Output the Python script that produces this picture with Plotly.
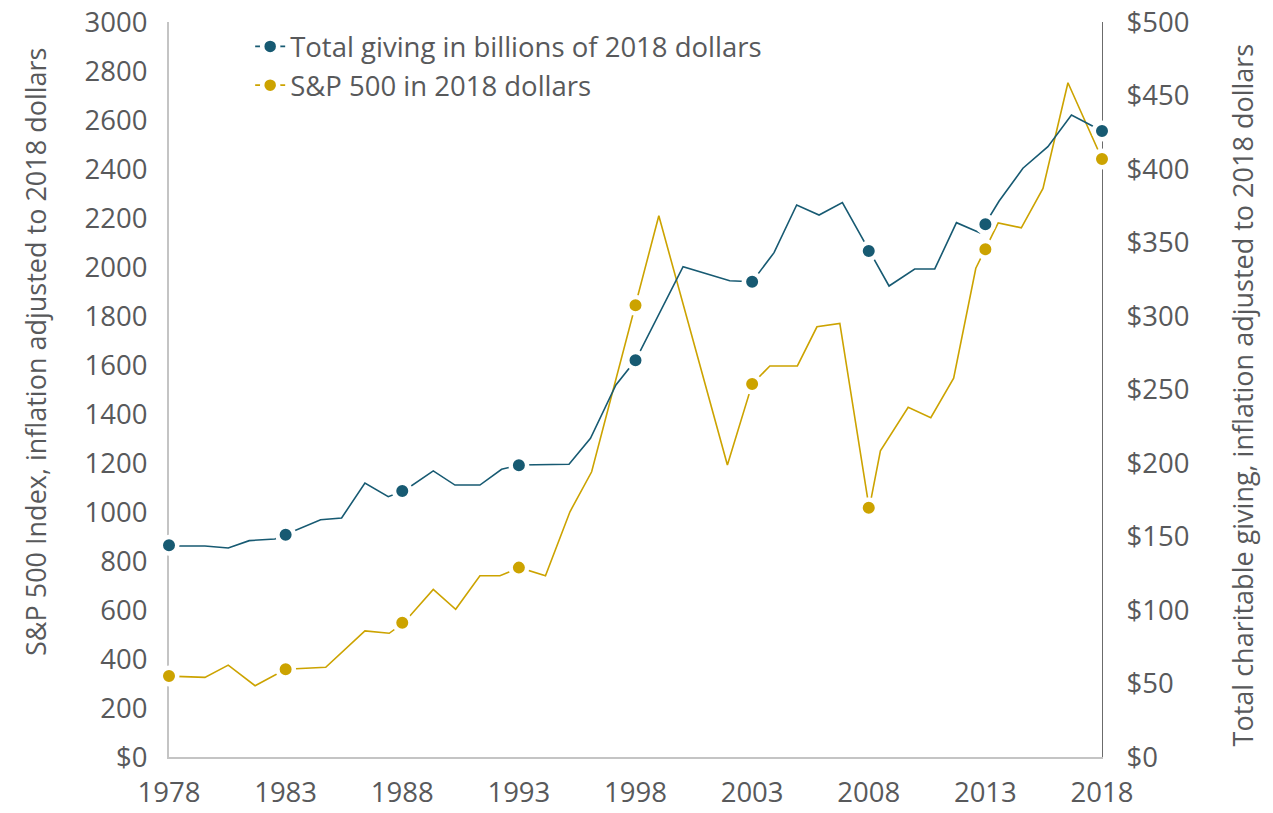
import plotly.graph_objects as go

# ---------------- data ----------------
# Total charitable giving, billions of 2018 dollars (right axis)
giving_x = [1978.0, 1979.54, 1980.54, 1981.44, 1982.54, 1984.5, 1985.4, 1986.4, 1987.4,
            1988.1, 1989.33, 1990.26, 1991.33, 1992.26, 1993.0, 1995.15, 1996.07, 1997.16,
            1998.0, 2000.04, 2002.04, 2003.0, 2003.94, 2004.91, 2005.87, 2006.87, 2008.87,
            2009.97, 2010.83, 2011.76, 2012.76, 2013.59, 2014.61, 2015.68, 2016.69, 2018.0]
giving_val = [143.5, 143.5, 142.2, 147.2, 148.3, 161.4, 162.6, 186.4, 177.1,
              181.3, 194.6, 185.0, 185.0, 195.7, 198.6, 199.1, 216.8, 253.1,
              269.9, 333.6, 324.0, 323.3, 343.1, 375.5, 368.7, 377.1, 320.4,
              332.0, 332.0, 363.5, 356.7, 378.2, 400.5, 415.2, 436.7, 425.9]

# S&P 500 index in 2018 dollars (left axis)
sp_x = [1978.0, 1979.54, 1980.54, 1981.69, 1983.0, 1984.72, 1986.4, 1987.44, 1988.07,
        1989.33, 1990.29, 1991.33, 1992.19, 1993.03, 1994.14, 1995.19, 1996.12, 1999.0,
        2001.94, 2003.0, 2003.76, 2004.94, 2005.78, 2006.76, 2008.02, 2008.5, 2009.69,
        2010.66, 2011.64, 2012.59, 2013.55, 2014.54, 2015.47, 2016.54, 2018.0]
sp_val = [330, 325, 375, 291, 358, 366, 515, 505, 548,
          684, 603, 740, 740, 773, 740, 1001, 1164, 2209,
          1192, 1522, 1596, 1596, 1756, 1770, 1015, 1250, 1427,
          1385, 1546, 1995, 2180, 2160, 2321, 2752, 2441]

# highlighted years (dots)
marker_years = [1978, 1983, 1988, 1993, 1998, 2003, 2008, 2013, 2018]
giving_marker = [144.0, 151.2, 181.0, 198.4, 269.9, 323.3, 344.2, 362.4, 425.9]
sp_marker = [331, 358, 548, 773, 1844, 1522, 1017, 2072, 2441]

# axis ticks
x_ticks = [1978, 1983, 1988, 1993, 1998, 2003, 2008, 2013, 2018]
left_ticks = list(range(0, 3001, 200))
left_labels = ["$0"] + [str(v) for v in left_ticks[1:]]
right_ticks = list(range(0, 501, 50))
right_labels = ["$" + str(v) for v in right_ticks]

name_giving = "Total giving in billions of 2018 dollars"
name_sp = "S&P 500 in 2018 dollars"
title_left = "S&P 500 Index, inflation adjusted to 2018 dollars"
title_right = "Total charitable giving, inflation adjusted to 2018 dollars"

TEAL = "#175a72"
GOLD = "#cca300"
TXT = "#58595b"
FONT = "Open Sans"
FS = 27.5

fig = go.Figure()

# lines
fig.add_trace(go.Scatter(x=sp_x, y=sp_val, mode="lines", yaxis="y",
                         line=dict(color=GOLD, width=1.6), showlegend=False,
                         hoverinfo="skip"))
fig.add_trace(go.Scatter(x=giving_x, y=giving_val, mode="lines", yaxis="y2",
                         line=dict(color=TEAL, width=1.6), showlegend=False,
                         hoverinfo="skip"))

# dots with white ring
mk = dict(size=16.5, line=dict(color="white", width=4.5))
fig.add_trace(go.Scatter(x=marker_years, y=sp_marker, mode="markers", yaxis="y",
                         marker=dict(color=GOLD, **mk), showlegend=False, cliponaxis=False))
fig.add_trace(go.Scatter(x=marker_years, y=giving_marker, mode="markers", yaxis="y2",
                         marker=dict(color=TEAL, **mk), showlegend=False, cliponaxis=False))

# legend entries
fig.add_trace(go.Scatter(x=[None], y=[None], mode="lines+markers", name=name_giving,
                         line=dict(color=TEAL, width=1.6),
                         marker=dict(color=TEAL, size=16, line=dict(color="white", width=4.5))))
fig.add_trace(go.Scatter(x=[None], y=[None], mode="lines+markers", name=name_sp,
                         line=dict(color=GOLD, width=1.6),
                         marker=dict(color=GOLD, size=16, line=dict(color="white", width=4.5))))

fig.update_layout(
    width=1273, height=813,
    margin=dict(l=169, r=171, t=22, b=56, autoexpand=False),
    paper_bgcolor="white", plot_bgcolor="white",
    font=dict(family=FONT, size=FS, color=TXT),
    showlegend=True,
    legend=dict(x=0.087, y=1.0, xanchor="left", yanchor="top",
                bgcolor="rgba(0,0,0,0)", font=dict(size=FS, color=TXT),
                tracegroupgap=0),
    xaxis=dict(range=[1978, 2018], tickmode="array", tickvals=x_ticks,
               ticktext=[str(v) for v in x_ticks], showgrid=False, zeroline=False,
               showline=True, linecolor="#c4c4c4", linewidth=2, ticks="",
               ticklabelstandoff=10, layer="below traces",
               tickfont=dict(size=FS, color=TXT)),
    yaxis=dict(range=[0, 3000], tickmode="array", tickvals=left_ticks,
               ticktext=left_labels, showgrid=False, zeroline=False,
               showline=True, linecolor="#c4c4c4", linewidth=2, ticks="",
               ticklabelstandoff=14, layer="below traces",
               tickfont=dict(size=FS, color=TXT)),
    yaxis2=dict(range=[0, 500], overlaying="y", side="right", anchor="x",
                tickmode="array", tickvals=right_ticks, ticktext=right_labels,
                showgrid=False, zeroline=False, showline=True, linecolor="#6b6b6b",
                linewidth=1, ticks="", ticklabelstandoff=18, layer="below traces",
                tickfont=dict(size=FS, color=TXT)),
    annotations=[
        dict(text=title_left, xref="paper", yref="paper", x=-0.1436, y=0.551,
             xanchor="center", yanchor="middle", textangle=-90, showarrow=False,
             font=dict(size=27, color=TXT)),
        dict(text=title_right, xref="paper", yref="paper", x=1.1505, y=0.4925,
             xanchor="center", yanchor="middle", textangle=-90, showarrow=False,
             font=dict(size=27, color=TXT)),
    ],
)

fig.write_html("out.html")
